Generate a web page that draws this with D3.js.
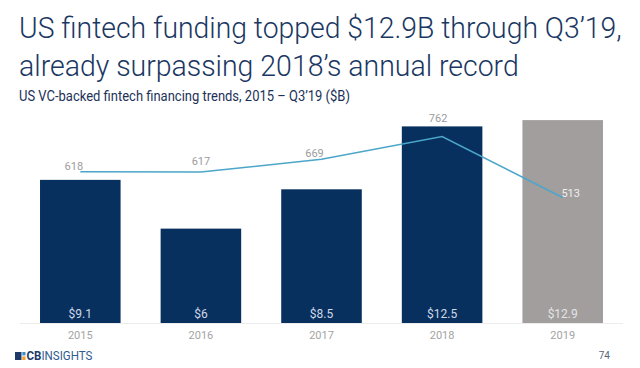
<!DOCTYPE html>
<html>
<head>
<meta charset="utf-8">
<script src="https://cdn.jsdelivr.net/npm/d3@7"></script>
<style>
  html, body { margin: 0; padding: 0; background: #fff; }
  svg { display: block; }
  text { font-family: Roboto, "Noto Sans", sans-serif; }
</style>
</head>
<body>
<svg id="chart" width="640" height="368"></svg>
<script>
// ---- data ----
const years = ["2015", "2016", "2017", "2018", "2019"];
const funding = [9.1, 6, 8.5, 12.5, 12.9];          // $B
const fundingLabels = ["$9.1", "$6", "$8.5", "$12.5", "$12.9"];
const deals = [618, 617, 669, 762, 513];
const titleLines = [
  "US fintech funding topped $12.9B through Q3\u201919,",
  "already surpassing 2018\u2019s annual record"
];
const subtitle = "US VC-backed fintech financing trends, 2015 \u2013 Q3\u201919 ($B)";
const pageNumber = "74";

// ---- layout ----
const svg = d3.select("#chart");
const baseY = 323;
const topY = 102.8;
const x = d3.scaleBand().domain(years).range([20, 623]).paddingInner(0.332).paddingOuter(0.166);
const y = d3.scaleLinear().domain([0, 14]).range([baseY, topY]);
const y2 = d3.scaleLinear().domain([0, 900]).range([baseY, topY]);

// condensed text helper: draw at natural size then scale horizontally to target width
function condensed(txt, x0, y0, size, weight, fill, width) {
  const g = svg.append("g");
  const t = g.append("text").attr("x", 0).attr("y", 0)
    .attr("font-size", size).attr("font-weight", weight).attr("fill", fill).text(txt);
  const w = t.node().getComputedTextLength();
  g.attr("transform", `translate(${x0},${y0}) scale(${width / w},1)`);
  return g;
}

// title
const titleColor = "#1a3763";
condensed(titleLines[0], 19, 38, 30, 300, titleColor, 603);
condensed(titleLines[1], 19, 76, 30, 300, titleColor, 500);
condensed(subtitle, 19, 100.5, 14, 400, "#1c3158", 331);

// baseline
svg.append("line").attr("x1", 20).attr("x2", 623).attr("y1", baseY + 0.5).attr("y2", baseY + 0.5)
  .attr("stroke", "#ececec").attr("stroke-width", 1);

// bars
svg.selectAll("rect.bar").data(funding).join("rect").attr("class", "bar")
  .attr("x", (d, i) => x(years[i]))
  .attr("width", x.bandwidth())
  .attr("y", d => y(d))
  .attr("height", d => baseY - y(d))
  .attr("fill", (d, i) => i === years.length - 1 ? "#a29e9e" : "#08305f");

// bar value labels
svg.selectAll("text.val").data(fundingLabels).join("text").attr("class", "val")
  .attr("x", (d, i) => x(years[i]) + x.bandwidth() / 2)
  .attr("y", 318)
  .attr("text-anchor", "middle").attr("font-size", 12)
  .attr("fill", (d, i) => i === years.length - 1 ? "#e4e4e4" : "#cfd8e6")
  .text(d => d);

// x axis labels
const xAxis = d3.axisBottom(x).tickSize(0).tickPadding(0);
const gx = svg.append("g").attr("transform", `translate(0,${baseY})`).call(xAxis);
gx.select(".domain").remove();
gx.selectAll("text").attr("dy", null).attr("y", 15.5)
  .attr("font-size", 11).attr("font-family", "Roboto, sans-serif").attr("fill", "#a3a3a3");

// line
const cx = d => x(d) + x.bandwidth() / 2;
const line = d3.line().x((d, i) => cx(years[i])).y(d => y2(d));
svg.append("path").datum(deals).attr("d", line)
  .attr("fill", "none").attr("stroke", "#4ba6c9").attr("stroke-width", 1.6);

// line labels (offsets relative to points)
const lblOffset = [[-6.5, -1.7], [0, -7], [-7, -2.3], [-4, -14.2], [8, 0]];
svg.selectAll("text.deal").data(deals).join("text").attr("class", "deal")
  .attr("x", (d, i) => cx(years[i]) + lblOffset[i][0])
  .attr("y", (d, i) => y2(d) + lblOffset[i][1])
  .attr("text-anchor", "middle").attr("font-size", 11)
  .attr("fill", (d, i) => i === years.length - 1 ? "#eeeeee" : "#9c9c9c")
  .text(d => d);

// footer logo
const logo = svg.append("g");
logo.append("rect").attr("x", 15).attr("y", 352).attr("width", 6.5).attr("height", 8).attr("fill", "#1d3a6b");
logo.append("rect").attr("x", 22.3).attr("y", 352).attr("width", 3.2).attr("height", 3.4).attr("fill", "#3b8fc9");
logo.append("rect").attr("x", 22.3).attr("y", 356.4).attr("width", 3.2).attr("height", 3.6).attr("fill", "#f0a030");
const lt = logo.append("text").attr("x", 26.5).attr("y", 360).attr("font-size", 12);
lt.append("tspan").attr("font-weight", 700).attr("fill", "#1d3a6b").text("CB");
lt.append("tspan").attr("fill", "#2f5b8f").text("INSIGHTS");
{
  const w = lt.node().getComputedTextLength();
  lt.attr("transform", `translate(26.5,360) scale(${66 / w},1) translate(-26.5,-360)`);
}

svg.append("text").attr("x", 610).attr("y", 358.5).attr("text-anchor", "end")
  .attr("font-size", 10).attr("fill", "#56657a").text(pageNumber);
</script>
</body>
</html>
